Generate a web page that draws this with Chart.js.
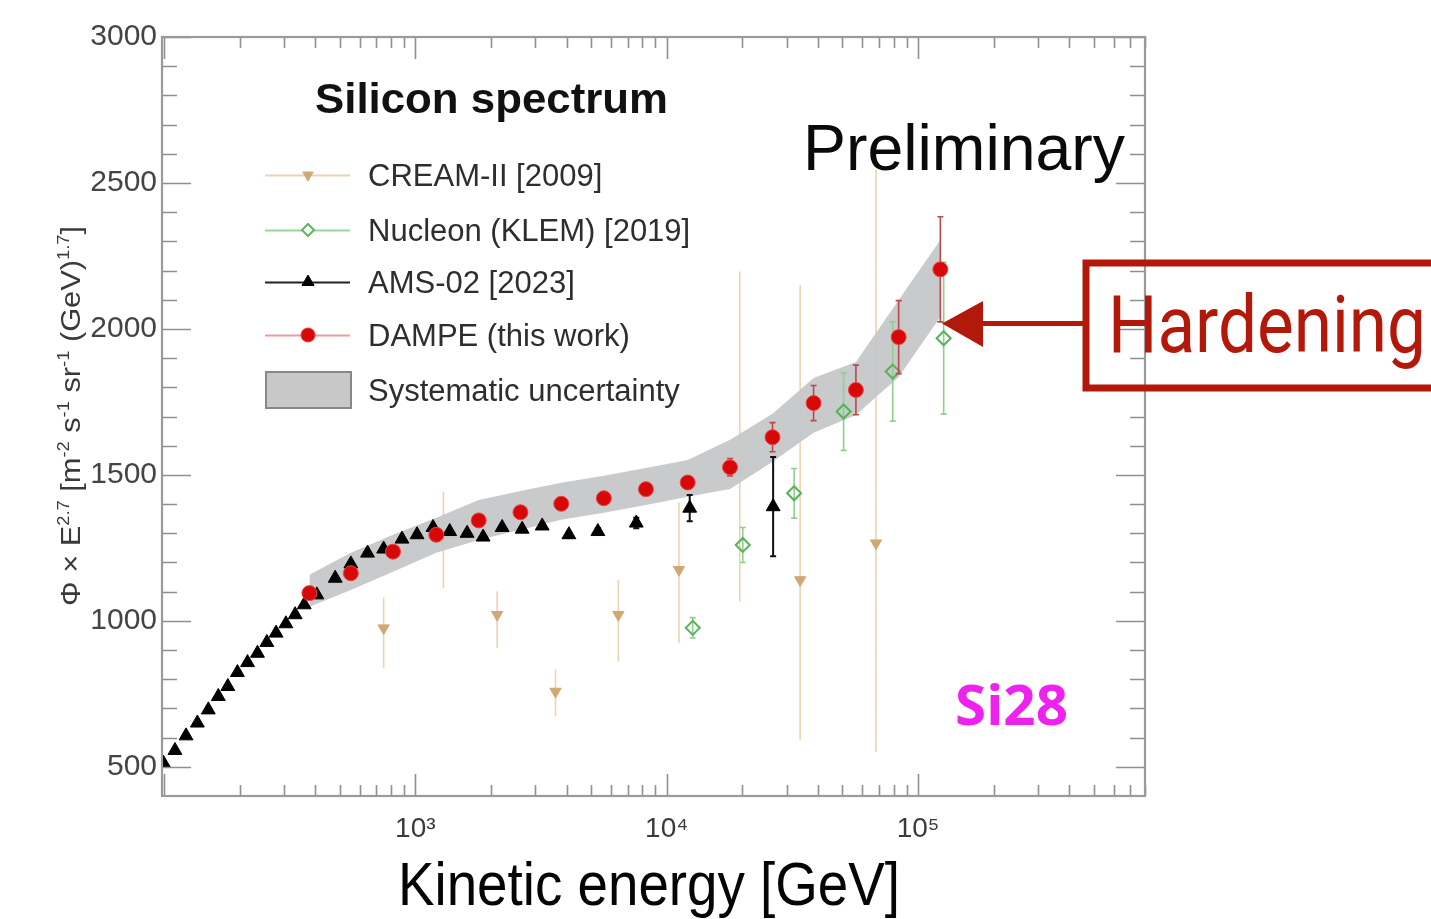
<!DOCTYPE html>
<html>
<head>
<meta charset="utf-8">
<script src="https://cdn.jsdelivr.net/npm/chart.js@4.4.1/dist/chart.umd.min.js"></script>
<style>
html,body{margin:0;padding:0;background:#fff;overflow:hidden;}
canvas{display:block;}
</style>
</head>
<body>
<canvas id="c" width="1431" height="919"></canvas>
<script>
// ---------- data ----------
const xTickValues = [1e3, 1e4, 1e5];
const xTickLabels = ['10\u00B3', '10\u2074', '10\u2075'];
const yTickValues = [500, 1000, 1500, 2000, 2500, 3000];

const creamEnergy  = [748, 1293, 2116, 3612, 6422, 11190, 19540, 33970, 68050];
const creamFlux    = [975, 1277, 1021, 758, 1021, 1175, 1517, 1140, 1266];
const creamErrUp   = [105, 165, 80, 75, 120, 230, 680, 1010, 1280];
const creamErrDown = [136, 165, 113, 85, 160, 250, 450, 547, 715];

const nucleonEnergy = [12695, 20080, 32140, 50580, 79300, 126500];
const nucleonFlux   = [976, 1260, 1437, 1717, 1854, 1968];
const nucleonErr    = [35, 60, 85, 133, 170, 260];

const amsEnergy = [99.4, 110.6, 122.4, 135.8, 150.1, 164.5, 179.5, 196, 215, 235.5, 256.6, 279.3, 305.5, 332.6, 361.3, 405.7, 480, 554, 645.4, 748, 885, 1016, 1176, 1370, 1607, 1861, 2215, 2661, 3198, 4083, 5325, 7570, 12350, 26520];
const amsFlux   = [513, 556, 606, 650, 695, 741, 775, 823, 857, 889, 926, 958, 990, 1021, 1055, 1089, 1146, 1195, 1232, 1246, 1280, 1295, 1320, 1306, 1300, 1287, 1320, 1314, 1325, 1295, 1306, 1335, 1386, 1391];
const amsErr    = [0, 0, 0, 0, 0, 0, 0, 0, 0, 0, 0, 0, 0, 0, 0, 0, 0, 0, 0, 0, 0, 0, 0, 0, 0, 0, 0, 0, 0, 10, 12, 18, 45, 170];

const dampeEnergy = [379, 554, 815, 1212, 1787, 2620, 3807, 5625, 8270, 12125, 17870, 26370, 38420, 56620, 83750, 122700];
const dampeFlux   = [1095, 1163, 1237, 1295, 1344, 1372, 1401, 1420, 1451, 1474, 1526, 1629, 1746, 1791, 1972, 2204];
const dampeErr    = [5, 5, 6, 7, 8, 10, 12, 14, 18, 22, 30, 50, 60, 85, 125, 180];
const sysUpper    = [1158, 1233, 1295, 1353, 1414, 1445, 1473, 1497, 1524, 1551, 1620, 1709, 1832, 1887, 2099, 2305];
const sysLower    = [1048, 1106, 1168, 1233, 1277, 1312, 1346, 1370, 1397, 1425, 1452, 1545, 1644, 1705, 1835, 2041];

const seriesNames = ['CREAM-II [2009]', 'Nucleon (KLEM) [2019]', 'AMS-02 [2023]', 'DAMPE (this work)', 'Systematic uncertainty'];

// ---------- helpers ----------
const pts = (xs, ys) => xs.map((x, i) => ({x: x, y: ys[i]}));

function drawMarker(ctx, style, x, y, r, fill, stroke, lw, rot) {
  ctx.save();
  ctx.translate(x, y);
  if (rot) ctx.rotate(rot * Math.PI / 180);
  ctx.beginPath();
  if (style === 'circle') {
    ctx.arc(0, 0, r, 0, Math.PI * 2);
  } else if (style === 'triangle') {
    for (let k = 0; k < 3; k++) {
      const a = k * 2 * Math.PI / 3;
      const px = Math.sin(a) * r, py = -Math.cos(a) * r;
      if (k === 0) ctx.moveTo(px, py); else ctx.lineTo(px, py);
    }
    ctx.closePath();
  } else if (style === 'rectRot') {
    ctx.moveTo(0, -r); ctx.lineTo(r, 0); ctx.lineTo(0, r); ctx.lineTo(-r, 0); ctx.closePath();
  }
  if (fill) { ctx.fillStyle = fill; ctx.fill(); }
  if (stroke && lw) { ctx.strokeStyle = stroke; ctx.lineWidth = lw; ctx.stroke(); }
  ctx.restore();
}

function fitText(ctx, text, x, y, font, color, targetW, align) {
  ctx.save();
  ctx.font = font;
  ctx.fillStyle = color;
  ctx.textBaseline = 'alphabetic';
  const w = ctx.measureText(text).width;
  const s = targetW ? targetW / w : 1;
  let x0 = x;
  if (align === 'center') x0 = x - (w * s) / 2;
  ctx.translate(x0, y);
  ctx.scale(s, 1);
  ctx.textAlign = 'left';
  ctx.fillText(text, 0, 0);
  ctx.restore();
}

// ---------- plugins ----------
const errBars = {
  id: 'errBars',
  beforeDatasetDraw(chart, args) {
    const ds = chart.data.datasets[args.index];
    if (!ds.errUp) return;
    const ctx = chart.ctx, ys = chart.scales.y, a = chart.chartArea;
    ctx.save();
    ctx.beginPath();
    ctx.rect(a.left, a.top, a.right - a.left, a.bottom - a.top);
    ctx.clip();
    ctx.strokeStyle = ds.errColor;
    ctx.lineWidth = ds.errWidth;
    ctx.beginPath();
    args.meta.data.forEach((p, i) => {
      const up = ds.errUp[i], dn = ds.errDown[i];
      if (!up && !dn) return;
      const v = ds.data[i].y;
      const y1 = ys.getPixelForValue(v + up), y2 = ys.getPixelForValue(v - dn);
      ctx.moveTo(p.x, y1); ctx.lineTo(p.x, y2);
      if (ds.errCap) {
        ctx.moveTo(p.x - ds.errCap, y1); ctx.lineTo(p.x + ds.errCap, y1);
        ctx.moveTo(p.x - ds.errCap, y2); ctx.lineTo(p.x + ds.errCap, y2);
      }
    });
    ctx.stroke();
    ctx.restore();
  }
};

const frame = {
  id: 'frame',
  afterDatasetsDraw(chart) {
    const {ctx, chartArea: a} = chart;
    const xs = chart.scales.x, ys = chart.scales.y;
    ctx.save();
    ctx.strokeStyle = '#8f8f8f';
    ctx.lineWidth = 1.6;
    ctx.beginPath();
    for (let d = 2; d <= 5; d++) {
      for (let m = 1; m <= 9; m++) {
        const v = m * Math.pow(10, d);
        if (v < xs.min || v > xs.max) continue;
        const px = Math.round(xs.getPixelForValue(v)) + 0.5;
        const len = (m === 1) ? 22 : 11;
        ctx.moveTo(px, a.bottom); ctx.lineTo(px, a.bottom - len);
        ctx.moveTo(px, a.top); ctx.lineTo(px, a.top + len);
      }
    }
    for (let v = 500; v <= 3000; v += 100) {
      const py = Math.round(ys.getPixelForValue(v)) + 0.5;
      const len = (v % 500 === 0) ? 29 : 15;
      ctx.moveTo(a.left, py); ctx.lineTo(a.left + len, py);
      ctx.moveTo(a.right, py); ctx.lineTo(a.right - len, py);
    }
    ctx.stroke();
    ctx.strokeStyle = '#9a9a9a';
    ctx.lineWidth = 2.2;
    ctx.strokeRect(a.left, a.top, a.right - a.left, a.bottom - a.top);
    ctx.restore();
  }
};

const decor = {
  id: 'decor',
  afterDraw(chart) {
    const ctx = chart.ctx;
    // legend
    fitText(ctx, 'Silicon spectrum', 315, 113, 'bold 42px "Liberation Sans", Arial, sans-serif', '#111', 353);
    const rows = [175, 230, 282, 335, 390];
    const lineCols = ['#ebd3b3', '#9ad69a', '#222222', '#f29a9a'];
    ctx.save();
    for (let i = 0; i < 4; i++) {
      ctx.strokeStyle = lineCols[i];
      ctx.lineWidth = 2;
      ctx.beginPath();
      ctx.moveTo(265, rows[i] + 0.5); ctx.lineTo(350, rows[i] + 0.5);
      ctx.stroke();
    }
    drawMarker(ctx, 'triangle', 308, rows[0], 6, '#cfa873', '#cfa873', 1, 180);
    drawMarker(ctx, 'rectRot', 308, rows[1], 6, '#ffffff', '#5cb85c', 2);
    drawMarker(ctx, 'triangle', 308, rows[2], 7, '#000', '#000', 1);
    drawMarker(ctx, 'circle', 308, rows[3], 7, '#d60808', '#e63b3b', 1);
    ctx.fillStyle = '#c8c8c8';
    ctx.fillRect(266, 372, 85, 36);
    ctx.strokeStyle = '#888';
    ctx.lineWidth = 2;
    ctx.strokeRect(266, 372, 85, 36);
    ctx.restore();
    for (let i = 0; i < 5; i++) {
      fitText(ctx, seriesNames[i], 368, rows[i] + 11, '31px "Liberation Sans", Arial, sans-serif', '#2e2e2e');
    }
    // Preliminary
    fitText(ctx, 'Preliminary', 803, 170, '64px "Liberation Sans", Arial, sans-serif', '#0a0a0a', 322);
    // Si28
    fitText(ctx, 'Si28', 955, 725, 'bold 56px "Open Sans", "Noto Sans", sans-serif', '#ee22ee', 113);
    // x title
    fitText(ctx, 'Kinetic energy [GeV]', 649, 905, '62px "Liberation Sans", Arial, sans-serif', '#050505', 502, 'center');
    // y title (rotated, with superscripts)
    const parts = [['\u03A6 \u00D7 E', 0], ['2.7', 1], [' [m', 0], ['-2', 1], [' s', 0], ['-1', 1], [' sr', 0], ['-1', 1], [' (GeV)', 0], ['1.7', 1], [']', 0]];
    const base = 27, supS = 16;
    ctx.save();
    let total = 0;
    const widths = parts.map(p => {
      ctx.font = (p[1] ? supS : base) + 'px "Liberation Sans", Arial, sans-serif';
      const w = ctx.measureText(p[0]).width;
      total += w;
      return w;
    });
    const s = 380 / total;
    ctx.translate(80, 416);
    ctx.rotate(-Math.PI / 2);
    ctx.scale(s, 1);
    ctx.fillStyle = '#3a3a3a';
    ctx.textBaseline = 'alphabetic';
    let cx = -total / 2;
    parts.forEach((p, i) => {
      ctx.font = (p[1] ? supS : base) + 'px "Liberation Sans", Arial, sans-serif';
      ctx.fillText(p[0], cx, p[1] ? -11 : 0);
      cx += widths[i];
    });
    ctx.restore();
    // Hardening annotation
    const red = '#b3190b';
    ctx.save();
    ctx.strokeStyle = red;
    ctx.lineWidth = 7;
    ctx.strokeRect(1086, 263, 400, 125);
    ctx.lineWidth = 5;
    ctx.beginPath();
    ctx.moveTo(980, 323.5); ctx.lineTo(1086, 323.5);
    ctx.stroke();
    ctx.fillStyle = red;
    ctx.beginPath();
    ctx.moveTo(942, 323.5); ctx.lineTo(983, 301); ctx.lineTo(983, 347); ctx.closePath();
    ctx.fill();
    ctx.restore();
    fitText(ctx, 'Hardening', 1108, 352, '80px Roboto, "Noto Sans", sans-serif', red, 318);
  }
};

// ---------- chart ----------
const ctx = document.getElementById('c').getContext('2d');
new Chart(ctx, {
  type: 'scatter',
  data: {
    datasets: [
      { label: seriesNames[0], data: pts(creamEnergy, creamFlux), order: 5,
        pointStyle: 'triangle', pointRotation: 180, pointRadius: 6.5, pointHoverRadius: 6.5,
        backgroundColor: '#cfa873', borderColor: '#cfa873', borderWidth: 1,
        errUp: creamErrUp, errDown: creamErrDown, errColor: '#ecd3b2', errWidth: 1.6, errCap: 0 },
      { label: 'sysLow', data: pts(dampeEnergy, sysLower), order: 4, type: 'line', showLine: true,
        pointRadius: 0, borderWidth: 0, borderColor: 'rgba(0,0,0,0)', fill: false, tension: 0 },
      { label: seriesNames[4], data: pts(dampeEnergy, sysUpper), order: 3, type: 'line', showLine: true,
        pointRadius: 0, borderWidth: 0, borderColor: 'rgba(0,0,0,0)', fill: 1,
        backgroundColor: 'rgba(198,200,201,0.97)', tension: 0 },
      { label: seriesNames[1], data: pts(nucleonEnergy, nucleonFlux), order: 2,
        pointStyle: 'rectRot', pointRadius: 7, pointHoverRadius: 7,
        backgroundColor: 'rgba(255,255,255,0)', borderColor: '#55b455', borderWidth: 2,
        errUp: nucleonErr, errDown: nucleonErr, errColor: '#8fcf8f', errWidth: 1.6, errCap: 3 },
      { label: seriesNames[2], data: pts(amsEnergy, amsFlux), order: 1,
        pointStyle: 'triangle', pointRadius: 8, pointHoverRadius: 8,
        backgroundColor: '#000', borderColor: '#000', borderWidth: 1,
        errUp: amsErr, errDown: amsErr, errColor: '#111', errWidth: 2, errCap: 3 },
      { label: seriesNames[3], data: pts(dampeEnergy, dampeFlux), order: 0,
        pointStyle: 'circle', pointRadius: 7.5, pointHoverRadius: 7.5,
        backgroundColor: '#d60808', borderColor: '#e84545', borderWidth: 1,
        errUp: dampeErr, errDown: dampeErr, errColor: '#b84a4a', errWidth: 1.6, errCap: 3 }
    ]
  },
  options: {
    responsive: false,
    animation: false,
    devicePixelRatio: 1,
    layout: { padding: { left: 0, top: 37, right: 286, bottom: 0 } },
    plugins: { legend: { display: false }, tooltip: { enabled: false }, title: { display: false } },
    events: [],
    scales: {
      x: {
        type: 'logarithmic',
        min: 98.2, max: 800000,
        grid: { display: false, drawTicks: false },
        border: { display: false },
        afterBuildTicks: (s) => { s.ticks = xTickValues.map(v => ({ value: v })); },
        afterFit: (s) => { s.height = 123; },
        ticks: {
          autoSkip: false, maxRotation: 0, padding: 16,
          color: '#3a3a3a',
          font: { family: '"Liberation Sans", Arial, sans-serif', size: 28 },
          callback: (v) => { const i = xTickValues.indexOf(v); return i >= 0 ? xTickLabels[i] : ''; }
        }
      },
      y: {
        type: 'linear',
        min: 400, max: 3000,
        grid: { display: false, drawTicks: false },
        border: { display: false },
        afterBuildTicks: (s) => { s.ticks = yTickValues.map(v => ({ value: v })); },
        afterFit: (s) => { s.width = 162; },
        ticks: {
          autoSkip: false, padding: 5,
          color: '#444444',
          font: { family: '"Liberation Sans", Arial, sans-serif', size: 30 },
          callback: (v) => String(v)
        }
      }
    }
  },
  plugins: [errBars, frame, decor]
});
</script>
</body>
</html>
